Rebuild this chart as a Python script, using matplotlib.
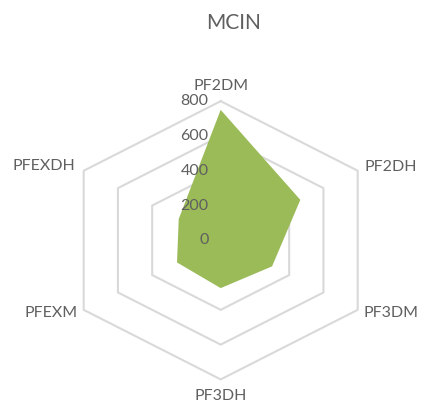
import numpy as np
import matplotlib.pyplot as plt
from matplotlib.transforms import offset_copy

plt.rcParams['font.family'] = ['Lato', 'DejaVu Sans']

categories = ['PF2DM', 'PF2DH', 'PF3DM', 'PF3DH', 'PFEXM', 'PFEXDH']
values = [750, 465, 300, 275, 255, 245]
rings = [0, 200, 400, 600, 800]

# where each category label sits (radius, horizontal alignment)
label_r = [890, 840, 835, 897, 835, 850]
label_ha = ['center', 'left', 'left', 'center', 'right', 'right']

text_color = '#5f5f5f'
grid_color = '#D9D9D9'
fill_color = '#9BBB59'

angles = np.linspace(0, 2 * np.pi, len(categories), endpoint=False)
closed = np.append(angles, angles[0])

fig = plt.figure(figsize=(4.26, 4.05), dpi=100)
ax = fig.add_axes([0.1467, 0.0632, 0.7427, 0.687], projection='polar')
ax.set_aspect('auto')
ax.set_theta_offset(np.pi / 2)
ax.set_theta_direction(-1)
ax.set_ylim(0, 800)
ax.grid(False)
ax.spines['polar'].set_visible(False)
ax.set_xticks([])
ax.set_yticks([])
ax.patch.set_visible(False)

# hexagonal gridlines
for r in rings[1:]:
    ax.plot(closed, [r] * len(closed), color=grid_color, lw=1.5, zorder=1,
            clip_on=False)

ax.fill(closed, np.append(values, values[0]), color=fill_color, lw=0, zorder=2)

# radial value labels just left of the vertical axis
shifted = offset_copy(ax.transData, fig=fig, x=-12, y=0, units='dots')
for r in rings:
    ax.text(0, r, str(r), transform=shifted, ha='right', va='center',
            fontsize=11.5, color=text_color, zorder=3)

for a, name, r, ha in zip(angles, categories, label_r, label_ha):
    ax.text(a, r, name, ha=ha, va='center', fontsize=11.5, color=text_color,
            clip_on=False)

fig.text(0.549, 1 - 23.3 / 405, 'MCIN', ha='center', va='center',
         fontsize=15, color=text_color)

fig.savefig('out.png', dpi=100)
